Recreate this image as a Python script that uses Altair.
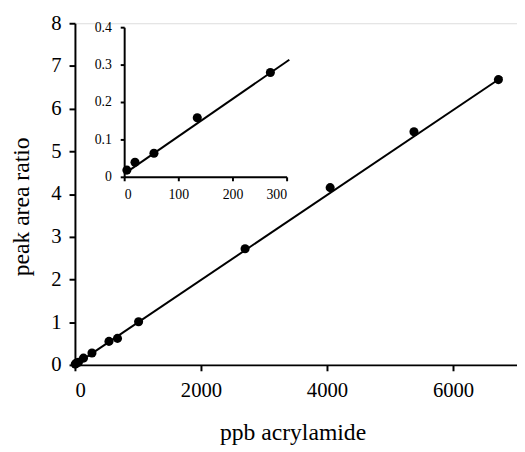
import altair as alt
import pandas as pd

# Main calibration data (ppb acrylamide vs peak area ratio)
main_x = [5, 20, 55, 135, 270, 540, 675, 1010, 2700, 4050, 5380, 6720]
main_y = [0.018, 0.039, 0.063, 0.158, 0.279, 0.55, 0.62, 1.01, 2.72, 4.15, 5.46, 6.68]
main_fit_x = [0, 6780]
main_fit_y = [0.0, 6.74]

# Inset (low range) data
inset_x = [5, 20, 55, 135, 270]
inset_y = [0.018, 0.039, 0.063, 0.158, 0.279]
inset_fit_x = [0, 305]
inset_fit_y = [0.008, 0.313]

main_ticks_x = [0, 2000, 4000, 6000]
main_ticks_y = [0, 1, 2, 3, 4, 5, 6, 7, 8]
inset_ticks_x = [0, 100, 200, 300]
inset_ticks_y = [0, 0.1, 0.2, 0.3, 0.4]

FONT = "Liberation Serif"

df_main = pd.DataFrame({"x": main_x, "y": main_y})
df_main_fit = pd.DataFrame({"x": main_fit_x, "y": main_fit_y})
df_inset = pd.DataFrame({"x": inset_x, "y": inset_y})
df_inset_fit = pd.DataFrame({"x": inset_fit_x, "y": inset_fit_y})

mx = alt.X("x:Q", scale=alt.Scale(domain=[0, 7015], nice=False),
           axis=alt.Axis(values=main_ticks_x, format="d", title="ppb acrylamide",
                         grid=False, domainColor="black", domainWidth=2,
                         tickColor="black", tickWidth=2, tickSize=6,
                         labelFont=FONT, labelFontSize=21, labelColor="black",
                         labelPadding=9, titleFont=FONT, titleFontSize=24,
                         titleFontWeight="normal", titleColor="black",
                         titleBaseline="alphabetic", titleY=76, titleX=221))
my = alt.Y("y:Q", scale=alt.Scale(domain=[0, 8], nice=False),
           axis=alt.Axis(values=main_ticks_y, format="d", title="peak area ratio",
                         grid=False, domainColor="black", domainWidth=2,
                         tickColor="black", tickWidth=2, tickSize=6,
                         labelFont=FONT, labelFontSize=21, labelColor="black",
                         labelPadding=8, titleFont=FONT, titleFontSize=24,
                         titleFontWeight="normal", titleColor="black",
                         titleAngle=270, titleBaseline="middle", titleAlign="center",
                         titleX=-54, titleY=186))

main_line = alt.Chart(df_main_fit).mark_line(color="black", strokeWidth=2).encode(x=mx, y=my)
main_pts = alt.Chart(df_main).mark_circle(size=85, color="black", opacity=1).encode(x="x:Q", y="y:Q")
main = alt.layer(main_line, main_pts)

ix = alt.X("x:Q", scale=alt.Scale(domain=[0, 300], range=[50, 215], nice=False),
           axis=alt.Axis(orient="bottom", offset=-191, values=inset_ticks_x, format="d",
                         title=None, grid=False, domainColor="black", domainWidth=2,
                         tickColor="black", tickWidth=2, tickSize=4,
                         labelFont=FONT, labelFontSize=14, labelColor="black",
                         labelPadding=7))
iy = alt.Y("y:Q", scale=alt.Scale(domain=[0, 0.4], range=[156, 4], nice=False),
           axis=alt.Axis(orient="left", offset=-50, values=inset_ticks_y, format="~g",
                         title=None, grid=False, domainColor="black", domainWidth=2,
                         tickColor="black", tickWidth=2, tickSize=4,
                         labelFont=FONT, labelFontSize=14, labelColor="black",
                         labelPadding=9))

inset_line = alt.Chart(df_inset_fit).mark_line(color="black", strokeWidth=2).encode(x=ix, y=iy)
inset_pts = alt.Chart(df_inset).mark_circle(size=85, color="black", opacity=1).encode(x="x:Q", y="y:Q")
inset = alt.layer(inset_line, inset_pts)

chart = alt.layer(main, inset).resolve_scale(x="independent", y="independent").properties(
    width=449, height=347,
    autosize=alt.AutoSizeParams(type="none"),
    padding={"left": 68, "top": 12, "right": 0, "bottom": 85},
).configure_view(stroke=None).configure(background="white")

chart.save("out.html", embed_options={"renderer": "svg", "actions": False})
